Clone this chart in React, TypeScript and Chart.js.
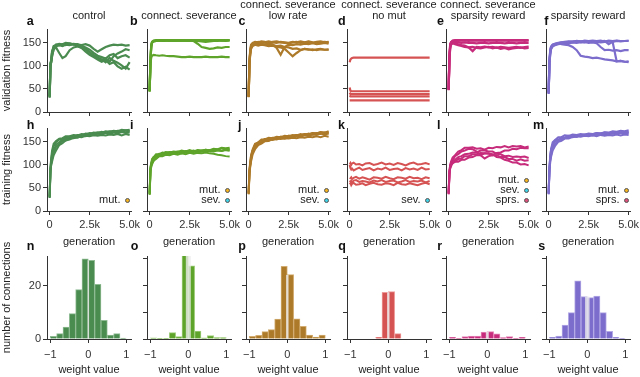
import React, { useEffect, useRef } from 'react';
import { Chart, registerables } from 'chart.js';

Chart.register(...registerables);

const FONT = "'Liberation Sans', Arial, Helvetica, sans-serif";

// ---------- shared axes data ----------
const GEN = [0, 50, 100, 150, 250, 400, 600, 800, 1000, 1250, 1500, 1750, 2000, 2250, 2500, 2750, 3000, 3250, 3500, 3750, 4000, 4250, 4500, 4750, 5000];
const X_TICKS = [0, 2500, 5000];
const X_TICK_LABELS = ['0', '2.5k', '5.0k'];
const FIT_TICKS = [0, 50, 100, 150];
const W_TICKS = [-1, 0, 1];
const W_TICK_LABELS = ['\u22121', '0', '1'];
const COUNT_TICKS = [0, 10, 20, 30];
const COUNT_TICKS_LEFT = [0, 20];
const BIN_CENTERS = [-0.9167, -0.75, -0.5833, -0.4167, -0.25, -0.0833, 0.0833, 0.25, 0.4167, 0.5833, 0.75, 0.9167];

const CONDITIONS = ['control', 'connect. severance', 'connect. severance / low rate', 'connect. severance / no mut', 'connect. severance / sparsity reward', 'sparsity reward'];
const TITLE_LINE1 = ['', '', 'connect. severance', 'connect. severance', 'connect. severance', ''];
const TITLE_LINE2 = ['control', 'connect. severance', 'low rate', 'no mut', 'sparsity reward', 'sparsity reward'];
const LETTERS = [['a', 'b', 'c', 'd', 'e', 'f'], ['h', 'i', 'j', 'k', 'l', 'm'], ['n', 'o', 'p', 'q', 'r', 's']];
const Y_TITLES = ['validation fitness', 'training fitness', 'number of connections'];
const LEGENDS = [['mut.'], ['mut.', 'sev.'], ['mut.', 'sev.'], ['sev.'], ['mut.', 'sev.', 'sprs.'], ['mut.', 'sprs.']];

// ---------- validation fitness ----------
const VAL_CONTROL = [
  [32, 100, 110, 122, 135, 142, 146, 144, 147, 146, 148, 146, 145, 147, 144, 137, 131, 136, 141, 144, 146, 145, 146, 144, 145],
  [35, 104, 112, 128, 140, 146, 144, 147, 145, 148, 146, 147, 143, 140, 135, 128, 122, 119, 116, 123, 126, 117, 121, 123, 118],
  [33, 102, 115, 132, 141, 140, 128, 117, 121, 134, 140, 142, 139, 136, 130, 124, 117, 113, 116, 109, 121, 127, 131, 136, 134],
  [34, 106, 108, 120, 137, 146, 148, 147, 150, 149, 147, 145, 139, 131, 124, 119, 114, 109, 113, 104, 108, 99, 94, 98, 92],
  [31, 98, 109, 127, 143, 145, 146, 143, 146, 145, 147, 144, 141, 137, 129, 121, 118, 114, 108, 117, 111, 107, 101, 94, 108],
];
const VAL_SEVER = [
  [45, 112, 142, 151, 154, 155, 156, 155, 155, 156, 155, 155, 156, 155, 155, 156, 155, 155, 156, 155, 155, 156, 155, 155, 156],
  [44, 108, 146, 152, 153, 154, 155, 154, 155, 154, 155, 155, 154, 155, 155, 154, 154, 153, 152, 153, 154, 154, 155, 154, 155],
  [46, 110, 140, 150, 153, 154, 154, 155, 155, 155, 154, 155, 155, 155, 155, 154, 148, 141, 139, 137, 138, 140, 139, 141, 141],
  [45, 105, 118, 122, 124, 123, 122, 123, 122, 121, 121, 120, 119, 119, 120, 119, 119, 119, 120, 119, 119, 119, 120, 119, 119],
  [46, 114, 144, 152, 155, 156, 156, 156, 156, 156, 156, 156, 156, 156, 156, 156, 156, 156, 156, 156, 156, 156, 156, 156, 156],
];
const VAL_LOWRATE = [
  [33, 108, 130, 141, 148, 150, 152, 150, 151, 153, 151, 150, 152, 151, 150, 152, 151, 153, 151, 152, 150, 152, 153, 151, 152],
  [34, 110, 135, 146, 150, 152, 151, 153, 152, 150, 152, 153, 151, 150, 149, 151, 152, 150, 151, 153, 151, 150, 151, 152, 151],
  [32, 105, 128, 139, 145, 147, 149, 146, 147, 148, 147, 139, 124, 141, 146, 145, 147, 146, 148, 147, 149, 147, 148, 150, 148],
  [33, 104, 125, 137, 143, 146, 144, 146, 145, 143, 144, 141, 140, 137, 129, 121, 128, 134, 137, 135, 136, 134, 136, 135, 136],
  [33, 106, 132, 143, 147, 148, 146, 147, 146, 147, 145, 143, 144, 141, 140, 137, 138, 135, 137, 136, 134, 136, 137, 135, 135],
];
const VAL_NOMUT = [
  [108, 114, 116, 117, 118, 118, 118, 118, 118, 118, 118, 118, 118, 118, 118, 118, 118, 118, 118, 118, 118, 118, 118, 118, 118],
  [53, 46, 45, 45, 45, 45, 45, 45, 45, 45, 45, 45, 45, 45, 45, 45, 45, 45, 45, 45, 45, 45, 45, 45, 45],
  [42, 39, 39, 39, 39, 39, 39, 39, 39, 39, 39, 39, 39, 39, 39, 39, 39, 39, 39, 39, 39, 39, 39, 39, 39],
  [36, 34, 34, 34, 34, 34, 34, 34, 34, 34, 34, 34, 34, 34, 34, 34, 34, 34, 34, 34, 34, 34, 34, 34, 34],
  [25, 25, 25, 25, 25, 25, 25, 25, 25, 25, 25, 25, 25, 25, 25, 25, 25, 25, 25, 25, 25, 25, 25, 25, 25],
];
const VAL_SPRS_SEV = [
  [48, 122, 146, 151, 155, 156, 156, 156, 156, 156, 156, 156, 156, 156, 156, 156, 156, 156, 156, 156, 156, 156, 156, 156, 156],
  [50, 126, 148, 152, 154, 155, 154, 155, 155, 154, 155, 155, 155, 154, 155, 155, 154, 155, 155, 154, 155, 155, 155, 154, 155],
  [47, 118, 141, 148, 151, 152, 151, 150, 151, 150, 150, 149, 150, 150, 149, 150, 150, 150, 149, 150, 150, 149, 150, 150, 150],
  [49, 120, 144, 150, 151, 149, 147, 145, 144, 140, 132, 141, 140, 142, 140, 141, 139, 141, 140, 139, 140, 141, 139, 141, 142],
  [48, 115, 138, 146, 149, 147, 145, 143, 141, 140, 141, 139, 138, 140, 141, 138, 140, 137, 139, 136, 138, 139, 140, 138, 139],
];
const VAL_SPRS = [
  [42, 108, 130, 140, 145, 148, 150, 151, 152, 153, 152, 154, 153, 154, 153, 154, 154, 153, 154, 147, 152, 154, 153, 154, 154],
  [40, 105, 128, 138, 144, 146, 148, 149, 151, 150, 151, 152, 151, 152, 150, 151, 149, 141, 134, 135, 133, 134, 132, 134, 134],
  [41, 110, 135, 142, 146, 147, 149, 147, 146, 145, 141, 134, 122, 120, 119, 117, 118, 116, 114, 113, 112, 110, 111, 109, 110],
  [39, 106, 125, 136, 142, 145, 147, 148, 150, 149, 151, 150, 152, 151, 153, 152, 152, 151, 152, 153, 152, 110, 111, 109, 108],
  [43, 112, 132, 140, 146, 148, 149, 151, 150, 152, 153, 154, 153, 155, 154, 155, 154, 155, 153, 155, 154, 155, 154, 154, 155],
];

// ---------- training fitness ----------
const TRAIN_CONTROL = [
  [30, 95, 116, 131, 146, 152, 157, 158, 162, 162, 165, 164, 167, 166, 169, 168, 171, 170, 173, 172, 174, 173, 176, 175, 176],
  [32, 90, 104, 119, 131, 144, 149, 155, 156, 161, 161, 165, 164, 168, 167, 170, 169, 172, 170, 173, 172, 174, 173, 175, 174],
  [28, 84, 101, 107, 121, 131, 143, 147, 153, 155, 159, 159, 163, 162, 165, 165, 168, 167, 170, 169, 171, 170, 173, 171, 173],
  [31, 92, 111, 124, 141, 149, 155, 156, 160, 160, 163, 162, 165, 164, 167, 165, 168, 166, 169, 167, 170, 168, 171, 169, 170],
  [29, 88, 101, 113, 124, 139, 145, 152, 153, 158, 158, 161, 160, 163, 162, 164, 163, 165, 164, 166, 165, 167, 164, 167, 165],
];
const TRAIN_SEVER = [
  [38, 92, 101, 107, 116, 119, 124, 124, 128, 127, 129, 128, 131, 129, 132, 129, 132, 131, 133, 131, 134, 133, 136, 133, 135],
  [36, 88, 97, 105, 109, 117, 119, 123, 122, 125, 124, 127, 125, 128, 126, 129, 127, 129, 128, 130, 129, 131, 130, 132, 131],
  [40, 95, 104, 113, 117, 123, 123, 127, 126, 128, 127, 129, 128, 130, 129, 131, 128, 131, 129, 132, 130, 133, 130, 133, 131],
  [35, 85, 96, 101, 109, 113, 119, 119, 122, 121, 124, 122, 125, 123, 126, 124, 126, 125, 127, 125, 124, 122, 121, 119, 118],
  [37, 90, 103, 109, 117, 119, 123, 122, 125, 124, 127, 126, 128, 127, 129, 128, 131, 130, 133, 132, 135, 134, 137, 136, 137],
];
const TRAIN_LOWRATE = [
  [38, 85, 101, 114, 131, 141, 149, 151, 156, 156, 159, 158, 161, 160, 163, 162, 165, 164, 167, 166, 169, 168, 171, 169, 171],
  [40, 90, 107, 121, 134, 146, 149, 155, 155, 159, 158, 161, 160, 163, 162, 165, 164, 167, 165, 168, 166, 169, 167, 170, 168],
  [36, 80, 96, 107, 123, 134, 143, 146, 151, 152, 156, 155, 158, 157, 160, 159, 162, 161, 164, 163, 166, 165, 168, 166, 168],
  [39, 88, 103, 119, 131, 144, 147, 152, 152, 155, 154, 157, 156, 158, 157, 159, 158, 160, 159, 161, 160, 162, 160, 163, 161],
  [37, 82, 99, 111, 127, 137, 146, 148, 153, 153, 157, 157, 161, 160, 163, 162, 165, 164, 167, 166, 169, 168, 171, 170, 173],
];
const TRAIN_NOMUT = [
  [101, 104, 100, 103, 105, 101, 102, 99, 103, 104, 100, 102, 105, 101, 103, 100, 104, 102, 99, 103, 105, 101, 102, 104, 101],
  [100, 93, 90, 92, 88, 91, 94, 89, 91, 93, 88, 92, 90, 94, 89, 91, 92, 88, 93, 90, 92, 89, 94, 90, 91],
  [72, 71, 73, 69, 72, 74, 70, 73, 71, 68, 73, 72, 70, 74, 71, 69, 73, 72, 70, 74, 71, 72, 69, 73, 71],
  [66, 64, 65, 62, 66, 67, 63, 65, 64, 62, 66, 64, 67, 63, 65, 66, 62, 64, 67, 63, 65, 64, 66, 62, 65],
  [58, 60, 56, 59, 61, 57, 58, 60, 56, 59, 61, 58, 57, 60, 59, 56, 61, 58, 57, 60, 58, 56, 59, 61, 58],
];
const TRAIN_SPRS_SEV = [
  [38, 85, 101, 107, 116, 121, 129, 132, 137, 137, 138, 135, 136, 133, 137, 136, 139, 138, 141, 138, 141, 140, 141, 138, 140],
  [36, 80, 94, 103, 109, 119, 123, 129, 131, 135, 134, 129, 121, 114, 119, 121, 126, 127, 131, 131, 135, 134, 137, 136, 136],
  [40, 88, 99, 103, 109, 111, 117, 119, 123, 124, 127, 127, 131, 131, 129, 129, 124, 123, 119, 120, 117, 118, 117, 118, 115],
  [37, 82, 93, 97, 105, 107, 113, 114, 119, 119, 123, 123, 126, 125, 125, 121, 121, 117, 117, 113, 113, 109, 112, 109, 110],
  [39, 86, 95, 101, 103, 107, 107, 111, 111, 116, 117, 121, 121, 125, 124, 123, 117, 116, 111, 109, 105, 105, 101, 102, 99],
];
const TRAIN_SPRS = [
  [38, 95, 121, 134, 149, 154, 160, 160, 164, 163, 166, 165, 167, 166, 168, 167, 169, 168, 170, 169, 171, 170, 172, 171, 172],
  [40, 90, 114, 129, 141, 151, 154, 159, 159, 163, 162, 165, 164, 166, 165, 167, 166, 168, 167, 169, 168, 170, 169, 171, 170],
  [36, 88, 111, 121, 137, 145, 153, 155, 159, 159, 162, 161, 164, 163, 165, 164, 166, 165, 167, 166, 168, 167, 169, 167, 169],
  [39, 92, 117, 133, 144, 153, 155, 159, 158, 161, 160, 162, 161, 163, 162, 164, 162, 165, 163, 165, 164, 166, 164, 166, 165],
  [37, 86, 106, 117, 131, 141, 150, 152, 157, 157, 161, 161, 165, 164, 167, 166, 169, 168, 171, 170, 173, 172, 174, 173, 175],
];

// ---------- weight histograms (counts per bin) ----------
const HIST_CONTROL = [1, 2, 4.5, 9.5, 18.5, 30, 29.5, 20.5, 7, 1.5, 2, 0.3];
const HIST_SEVER = [0.4, 0.25, 0.25, 2.4, 0.9, 40, 27.4, 3, 0.4, 1.25, 0.5, 0.5];
const HIST_LOWRATE = [1, 1.4, 2.75, 3.5, 7.5, 27.25, 24.1, 7.6, 4.75, 1.5, 0.75, 1.5];
const HIST_NOMUT = [0, 0, 0, 0, 0.6, 17.5, 17.75, 2, 0, 0, 0, 0];
const HIST_SPRS_SEV = [0.6, 0.1, 0.9, 1.1, 1.1, 2.6, 2.75, 1.9, 0.5, 0.9, 0.1, 0.6];
const HIST_SPRS = [0.6, 1.1, 5.25, 9.9, 21.75, 15.9, 15.5, 16.1, 9.9, 2.9, 0.6, 0.25];
// height of the light zero-weight stripe
const ZERO_STRIPE = [29.5, 40, 24, 17.5, 2.8, 15.9];

// ---------- styling / layout ----------
const COLORS = ['#4a8b50', '#5ea42a', '#ad7a2a', '#d65353', '#c62c7b', '#7c6dcc'];
const BAR_EDGE = ['#8fbb92', '#9fcd7c', '#d2ac70', '#ee9a9a', '#e584b6', '#b3a9e6'];
const STRIPE_W = [1.5, 5, 2.5, 2.5, 3, 4.5];
const DOT_COLORS: Record<string, string> = { 'mut.': '#f2b21f', 'sev.': '#3fd2e6', 'sprs.': '#d9507a' };
const COL_X = [47, 147, 246, 347, 446, 546];
const ROW_BOTTOM = [112, 211, 339];
const PLOT_W = 84;
const PLOT_H = 83;
const PAD_L = 47;
const PAD_T = 24;
const PAD_R = 20;
const PAD_B = [14, 38, 38];
const LETTER_X = [
  [26.7, 130, 238.5, 338, 437, 544.3],
  [26.7, 130, 238, 338, 437, 533],
  [26.7, 130.7, 238.3, 338.3, 437.3, 538.3],
];
const LETTER_BASE = [26, 129.3, 251];
const AXIS = '#333';

const VAL = [VAL_CONTROL, VAL_SEVER, VAL_LOWRATE, VAL_NOMUT, VAL_SPRS_SEV, VAL_SPRS];
const TRAIN = [TRAIN_CONTROL, TRAIN_SEVER, TRAIN_LOWRATE, TRAIN_NOMUT, TRAIN_SPRS_SEV, TRAIN_SPRS];
const HIST = [HIST_CONTROL, HIST_SEVER, HIST_LOWRATE, HIST_NOMUT, HIST_SPRS_SEV, HIST_SPRS];

function yScale(row: number, col: number) {
  const left = col === 0;
  const hist = row === 2;
  const tickVals = hist ? (left ? COUNT_TICKS_LEFT : COUNT_TICKS) : FIT_TICKS;
  return {
    type: 'linear',
    min: 0,
    max: hist ? 31.1 : 180,
    afterFit: (s: any) => { s.width = PAD_L; },
    afterBuildTicks: (s: any) => { s.ticks = tickVals.map((v) => ({ value: v })); },
    ticks: {
      display: left,
      padding: 2,
      color: '#333',
      font: { size: 11, family: FONT },
      callback: (v: any) => String(v),
    },
    grid: { drawOnChartArea: false, drawTicks: true, tickLength: 4, tickColor: AXIS, tickWidth: 1 },
    border: { display: true, color: AXIS, width: 1 },
    title: { display: left, text: Y_TITLES[row], padding: 0, color: '#222', font: { size: 11, family: FONT } },
  };
}

function xScale(row: number) {
  const hist = row === 2;
  const tickVals = hist ? W_TICKS : X_TICKS;
  const labels = hist ? W_TICK_LABELS : X_TICK_LABELS;
  return {
    type: 'linear',
    min: hist ? -1.087 : -165,
    max: hist ? 1.123 : 5085,
    offset: false,
    afterFit: (s: any) => { s.height = PAD_B[row]; },
    afterBuildTicks: (s: any) => { s.ticks = tickVals.map((v) => ({ value: v })); },
    ticks: {
      display: row > 0,
      padding: hist ? 5 : 3,
      maxRotation: 0,
      autoSkip: false,
      color: '#333',
      font: { size: 11, family: FONT },
      callback: (v: any) => { const i = tickVals.indexOf(v); return i >= 0 ? labels[i] : ''; },
    },
    grid: { offset: false, drawOnChartArea: false, drawTicks: true, tickLength: 4, tickColor: AXIS, tickWidth: 1 },
    border: { display: true, color: AXIS, width: 1 },
    title: { display: row > 0, text: hist ? 'weight value' : 'generation', padding: 0, color: '#222', font: { size: 11, family: FONT } },
  };
}

function buildConfig(row: number, col: number): any {
  const base = {
    animation: false,
    responsive: false,
    maintainAspectRatio: false,
    layout: { padding: { top: PAD_T, right: PAD_R, left: 0, bottom: 0 } },
    plugins: { legend: { display: false }, tooltip: { enabled: false }, title: { display: false } },
    scales: { x: xScale(row), y: yScale(row, col) },
  };
  if (row < 2) {
    const series = row === 0 ? VAL[col] : TRAIN[col];
    return {
      type: 'line',
      data: {
        datasets: series.map((s, k) => ({
          label: CONDITIONS[col] + ' run ' + (k + 1),
          data: GEN.map((g, i) => ({ x: g, y: s[i] })),
          borderColor: COLORS[col],
          borderWidth: row === 0 ? 2.2 : 2,
          pointRadius: 0,
          tension: 0,
          fill: false,
        })),
      },
      options: base,
    };
  }
  return {
    type: 'bar',
    data: {
      datasets: [
        {
          type: 'line',
          label: 'zero',
          data: [{ x: 0, y: 0 }, { x: 0, y: ZERO_STRIPE[col] }],
          borderColor: 'rgba(236,236,236,0.78)',
          borderWidth: STRIPE_W[col],
          pointRadius: 0,
          order: 0,
        },
        {
          type: 'bar',
          label: CONDITIONS[col],
          data: BIN_CENTERS.map((c, i) => ({ x: c, y: HIST[col][i] })),
          backgroundColor: COLORS[col],
          borderColor: BAR_EDGE[col],
          borderWidth: 1,
          barPercentage: 1,
          categoryPercentage: 1,
          order: 1,
        },
      ],
    },
    options: base,
  };
}

function Panel({ row, col }: { row: number; col: number }) {
  const ref = useRef<HTMLCanvasElement>(null);
  useEffect(() => {
    const chart = new Chart(ref.current as HTMLCanvasElement, buildConfig(row, col));
    return () => chart.destroy();
  }, [row, col]);
  const w = PAD_L + PLOT_W + PAD_R;
  const h = PAD_T + PLOT_H + PAD_B[row];
  return (
    <canvas
      ref={ref}
      width={w}
      height={h}
      style={{ position: 'absolute', left: COL_X[col] - PAD_L, top: ROW_BOTTOM[row] - PLOT_H - PAD_T, width: w, height: h }}
    />
  );
}

function Txt({ x, y, text, align = 'center', size = 11, bold = false, color = '#222' }: any) {
  const style: any = {
    position: 'absolute',
    top: y - 0.8465 * size,
    fontFamily: FONT,
    fontSize: size,
    lineHeight: size + 'px',
    fontWeight: bold ? 'bold' : 'normal',
    color,
    whiteSpace: 'nowrap',
  };
  if (align === 'center') { style.left = x; style.transform = 'translateX(-50%)'; }
  else if (align === 'right') { style.right = 640 - x; }
  else style.left = x;
  return <div style={style}>{text}</div>;
}

export default function App() {
  const panels: JSX.Element[] = [];
  for (let r = 0; r < 3; r++) for (let c = 0; c < 6; c++) panels.push(<Panel key={r + '-' + c} row={r} col={c} />);
  const texts: JSX.Element[] = [];
  for (let c = 0; c < 6; c++) {
    const cx = COL_X[c] + PLOT_W / 2;
    if (TITLE_LINE1[c]) texts.push(<Txt key={'t1' + c} x={cx} y={8.7} text={TITLE_LINE1[c]} />);
    texts.push(<Txt key={'t2' + c} x={cx} y={19.8} text={TITLE_LINE2[c]} />);
    for (let r = 0; r < 3; r++) {
      texts.push(<Txt key={'l' + r + c} x={LETTER_X[r][c]} y={LETTER_BASE[r]} text={LETTERS[r][c]} align="left" size={12.5} bold color="#111" />);
    }
    const items = LEGENDS[c];
    items.forEach((it, k) => {
      const cy = 200.3 - (items.length - 1 - k) * 10;
      const dx = COL_X[c] + 80;
      texts.push(<Txt key={'lg' + c + k} x={dx - 6.5} y={cy + 3} text={it} align="right" color="#222" />);
      texts.push(
        <div
          key={'dot' + c + k}
          style={{ position: 'absolute', left: dx - 2.5, top: cy - 2.5, width: 3, height: 3, border: '1px solid #555', borderRadius: '50%', background: DOT_COLORS[it] }}
        />
      );
    });
  }
  return (
    <div style={{ position: 'absolute', left: 0, top: 0, width: 640, height: 377, background: '#fff', overflow: 'hidden' }}>
      {panels}
      {texts}
    </div>
  );
}
